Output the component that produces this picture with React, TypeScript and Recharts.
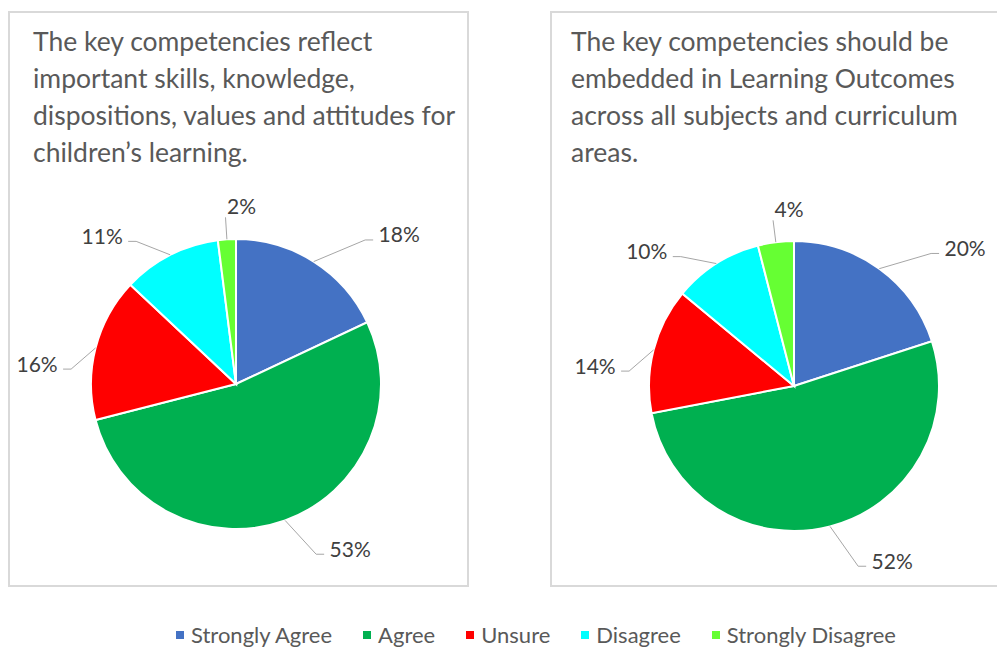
import React from 'react';
import { PieChart, Pie, Cell, Legend } from 'recharts';

const categories = ['Strongly Agree', 'Agree', 'Unsure', 'Disagree', 'Strongly Disagree'];
const reflectValues = [18, 53, 16, 11, 2];
const embedValues = [20, 52, 14, 10, 4];
const colors = ['#4472C4', '#00B050', '#FF0000', '#00FFFF', '#66FF33'];
const titleLeft = [
  'The key competencies reflect',
  'important skills, knowledge,',
  'dispositions, values and attitudes for',
  'children\u2019s learning.',
];
const titleRight = [
  'The key competencies should be',
  'embedded in Learning Outcomes',
  'across all subjects and curriculum',
  'areas.',
];

const leftData = categories.map((name, i) => ({ name, value: reflectValues[i] }));
const rightData = categories.map((name, i) => ({ name, value: embedValues[i] }));

const RAD = Math.PI / 180;
const FONT = 'Lato, "Open Sans", sans-serif';

function renderLabel(props: any) {
  const { cx, cy, midAngle, outerRadius, value } = props;
  const a = ((((midAngle + 180) % 360) + 360) % 360) - 180;
  const ex = cx + outerRadius * Math.cos(a * RAD);
  const ey = cy - outerRadius * Math.sin(a * RAD);
  const vertical = Math.abs(Math.cos(a * RAD)) < 0.2;
  const txt = `${value}%`;
  const w = 12 * (txt.length - 1) + 16;
  if (vertical) {
    const d = outerRadius + 22;
    const ax = cx + d * Math.cos(a * RAD);
    const ay = cy - d * Math.sin(a * RAD);
    return (
      <g>
        <path d={`M${ex},${ey}L${ax},${ay}`} stroke="#A6A6A6" strokeWidth={1} fill="none" />
        <text x={ax + 16} y={ay - 12} textAnchor="middle" dominantBaseline="central"
          fontFamily={FONT} fontSize={21} fill="#404040">{txt}</text>
      </g>
    );
  }
  const right = Math.cos(a * RAD) > 0;
  const h = right ? 0 : a > 0 ? 180 : -180;
  const diff = h - a;
  const push = Math.sign(diff) * Math.max(0, Math.min(15, Math.abs(diff) - 6));
  const la = a + push;
  const upperRight = right && la > 0;
  const d = outerRadius + 55 + (upperRight ? 32 * Math.sin(la * RAD) : 0);
  const side = right ? 1 : -1;
  const tx = cx + d * Math.cos(la * RAD);
  const ty = cy - d * Math.sin(la * RAD);
  const lx = tx - side * (w / 2 + 6);
  const ly = ty + 6;
  return (
    <g>
      <path d={`M${ex},${ey}L${lx - side * 8},${ly}L${lx},${ly}`} stroke="#A6A6A6" strokeWidth={1} fill="none" />
      <text x={tx} y={ty} textAnchor="middle" dominantBaseline="central"
        fontFamily={FONT} fontSize={21} fill="#404040">{txt}</text>
    </g>
  );
}

const renderLegend = () => (
  <div style={{ display: 'flex', alignItems: 'center', fontFamily: FONT, fontSize: 22, color: '#595959' }}>
    {categories.map((c, i) => (
      <div key={c} style={{ display: 'flex', alignItems: 'center', marginRight: i < categories.length - 1 ? 31 : 0 }}>
        <span style={{ display: 'inline-block', width: 8, height: 8, background: colors[i], marginRight: 7 }} />
        <span>{c}</span>
      </div>
    ))}
  </div>
);

const boxStyle = (left: number, width: number): React.CSSProperties => ({
  position: 'absolute', left, top: 11, width, height: 576, border: '2px solid #D9D9D9', boxSizing: 'border-box',
});

const titleStyle = (left: number): React.CSSProperties => ({
  position: 'absolute', left, top: 23, fontFamily: FONT, fontSize: 26.5, lineHeight: '37px', color: '#595959', whiteSpace: 'nowrap',
});

export default function App() {
  return (
    <div style={{ position: 'absolute', left: 0, top: 0, width: 997, height: 648, background: '#fff', overflow: 'hidden' }}>
      <div style={boxStyle(8, 461)} />
      <div style={boxStyle(550, 460)} />
      <div style={titleStyle(33)}>{titleLeft.map((t) => <div key={t}>{t}</div>)}</div>
      <div style={titleStyle(571)}>{titleRight.map((t) => <div key={t}>{t}</div>)}</div>
      <div style={{ position: 'absolute', left: 0, top: 0 }}>
        <PieChart width={997} height={648} margin={{ top: 0, right: 0, bottom: 0, left: 0 }}>
          <Pie data={leftData} dataKey="value" nameKey="name" cx={236} cy={384} outerRadius={145}
            startAngle={90} endAngle={-270} stroke="#fff" strokeWidth={2} isAnimationActive={false}
            label={renderLabel} labelLine={false}>
            {leftData.map((d, i) => <Cell key={d.name} fill={colors[i]} />)}
          </Pie>
          <Pie data={rightData} dataKey="value" nameKey="name" cx={794} cy={386} outerRadius={145}
            startAngle={90} endAngle={-270} stroke="#fff" strokeWidth={2} isAnimationActive={false}
            label={renderLabel} labelLine={false}>
            {rightData.map((d, i) => <Cell key={d.name} fill={colors[i]} />)}
          </Pie>
          <Legend content={renderLegend} wrapperStyle={{ position: 'absolute', left: 176, top: 621, width: 'auto' }} />
        </PieChart>
      </div>
    </div>
  );
}
